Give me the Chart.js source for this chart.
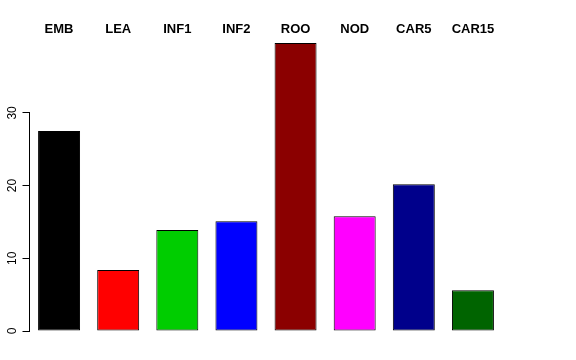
<!DOCTYPE html>
<html>
<head>
  <meta charset="UTF-8" />
  <title>Barplot</title>
  <script src="https://cdn.jsdelivr.net/npm/chart.js"></script>
  <style>
    html, body { margin: 0; padding: 0; background: #fff; }
    #wrap { width: 576px; height: 360px; }
  </style>
</head>
<body>
  <div id="wrap"><canvas id="chart" width="576" height="360"></canvas></div>
  <script>
    // data
    const categories = ['EMB', 'LEA', 'INF1', 'INF2', 'ROO', 'NOD', 'CAR5', 'CAR15'];
    const values = [27.5, 8.4, 13.9, 15.1, 39.6, 15.8, 20.2, 5.6];
    const barColors = ['#000000', '#ff0000', '#00cd00', '#0000ff', '#8b0000', '#ff00ff', '#00008b', '#006400'];
    const yTicks = [0, 10, 20, 30];

    // y axis line only over the tick range, like R's axis()
    const axisLine = {
      id: 'axisLine',
      afterDraw(chart) {
        const y = chart.scales.y;
        const ctx = chart.ctx;
        const x = chart.chartArea.left;
        ctx.save();
        ctx.strokeStyle = '#000';
        ctx.lineWidth = 1;
        ctx.beginPath();
        ctx.moveTo(x, y.getPixelForValue(yTicks[0]));
        ctx.lineTo(x, y.getPixelForValue(yTicks[yTicks.length - 1]));
        ctx.stroke();
        ctx.restore();
      }
    };

    new Chart(document.getElementById('chart'), {
      type: 'bar',
      data: {
        labels: categories,
        datasets: [{
          data: values,
          backgroundColor: barColors,
          borderColor: '#000',
          borderWidth: 1,
          borderSkipped: false,
          categoryPercentage: 1,
          barPercentage: 0.71
        }]
      },
      options: {
        responsive: false,
        animation: false,
        layout: { padding: { left: 0, right: 73.5, top: 0, bottom: 29 } },
        plugins: { legend: { display: false }, tooltip: { enabled: false } },
        scales: {
          x: {
            position: 'top',
            grid: { display: false, drawTicks: false },
            border: { display: false },
            ticks: {
              color: '#000',
              padding: 3,
              font: { family: 'Liberation Sans', size: 13, weight: 'bold' }
            },
            afterFit(scale) { scale.height = 40.2; }
          },
          y: {
            min: 0,
            max: 40,
            grid: { drawOnChartArea: false, drawTicks: true, tickLength: 7, color: '#000' },
            border: { display: false },
            afterBuildTicks(scale) { scale.ticks = yTicks.map(v => ({ value: v })); },
            ticks: {
              color: '#000',
              minRotation: 90,
              maxRotation: 90,
              crossAlign: 'center',
              padding: 3,
              font: { family: 'Liberation Sans', size: 12 }
            },
            afterFit(scale) { scale.width = 29.5; }
          }
        }
      },
      plugins: [axisLine]
    });
  </script>
</body>
</html>
